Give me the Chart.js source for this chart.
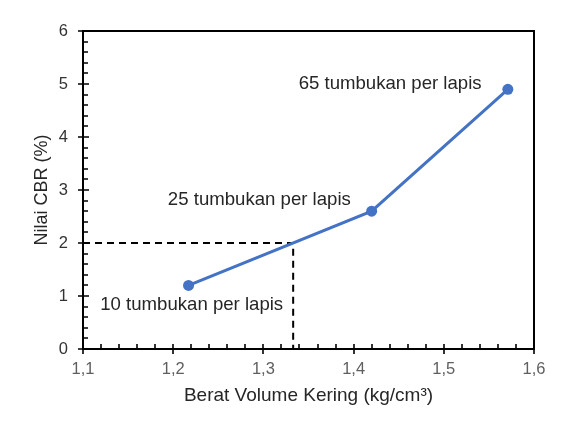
<!DOCTYPE html>
<html>
<head>
<meta charset="utf-8">
<script src="https://cdn.jsdelivr.net/npm/chart.js@4"></script>
<style>
  html, body { margin: 0; padding: 0; background: #ffffff; }
  #wrap { width: 574px; height: 425px; }
</style>
</head>
<body>
<div id="wrap"><canvas id="c" width="574" height="425"></canvas></div>
<script>
// ---- data ----
const dryDensity = [1.217, 1.420, 1.571];
const cbrValues = [1.2, 2.6, 4.9];
const pointLabels = ['10 tumbukan per lapis', '25 tumbukan per lapis', '65 tumbukan per lapis'];
const labelAnchorX = [1.2205, 1.2955, 1.4405];
const labelAnchorY = [0.83, 2.81, 5.0];
const guideX = [1.1, 1.333, 1.333];
const guideY = [2, 2, 0];
const xTickLabels = ['1,1', '1,2', '1,3', '1,4', '1,5', '1,6'];
const yTickLabels = ['0', '1', '2', '3', '4', '5', '6'];
const xTitle = 'Berat Volume Kering (kg/cm³)';
const yTitle = 'Nilai CBR (%)';

const FONT = '"Liberation Sans", Arial, sans-serif';

const decorPlugin = {
  id: 'decor',
  beforeDatasetsDraw(chart) {
    const { ctx, chartArea: a, scales } = chart;
    const xs = scales.x, ys = scales.y;
    ctx.save();
    ctx.strokeStyle = '#000';
    ctx.lineWidth = 2;
    ctx.strokeRect(a.left, a.top, a.right - a.left, a.bottom - a.top);
    ctx.lineWidth = 1.6;
    ctx.beginPath();
    // x ticks
    for (let i = 0; i <= 25; i++) {
      const px = Math.round(xs.getPixelForValue(1.1 + i * 0.02));
      if (i % 5 === 0) { ctx.moveTo(px, a.bottom - 5); ctx.lineTo(px, a.bottom + 5); }
      else { ctx.moveTo(px, a.bottom); ctx.lineTo(px, a.bottom - 5); }
    }
    // y ticks
    for (let i = 0; i <= 30; i++) {
      const py = Math.round(ys.getPixelForValue(i * 0.2));
      if (i % 5 === 0) { ctx.moveTo(a.left - 5, py); ctx.lineTo(a.left + 6, py); }
      else { ctx.moveTo(a.left, py); ctx.lineTo(a.left + 5, py); }
    }
    ctx.stroke();
    ctx.restore();
  },
  afterDatasetsDraw(chart) {
    const { ctx, scales } = chart;
    ctx.save();
    ctx.fillStyle = '#262626';
    ctx.font = '18.6px ' + FONT;
    ctx.textAlign = 'center';
    ctx.textBaseline = 'middle';
    pointLabels.forEach((t, i) => {
      ctx.fillText(t, scales.x.getPixelForValue(labelAnchorX[i]), scales.y.getPixelForValue(labelAnchorY[i]));
    });
    ctx.restore();
  }
};

new Chart(document.getElementById('c'), {
  type: 'scatter',
  data: {
    datasets: [
      {
        data: guideX.map((x, i) => ({ x, y: guideY[i] })),
        showLine: true,
        borderColor: '#000',
        borderWidth: 2,
        borderDash: [7, 5],
        pointRadius: 0,
        fill: false,
        order: 2
      },
      {
        data: dryDensity.map((x, i) => ({ x, y: cbrValues[i] })),
        showLine: true,
        borderColor: '#4472C4',
        backgroundColor: '#4472C4',
        borderWidth: 3,
        pointRadius: 5.5,
        pointBorderWidth: 0,
        pointBackgroundColor: '#4472C4',
        fill: false,
        order: 1
      }
    ]
  },
  options: {
    responsive: false,
    animation: false,
    devicePixelRatio: 1,
    layout: { padding: { left: 0, right: 40, top: 31, bottom: 0 } },
    plugins: { legend: { display: false }, tooltip: { enabled: false } },
    scales: {
      x: {
        type: 'linear',
        min: 1.1, max: 1.6,
        afterFit(s) { s.height = 76; },
        afterBuildTicks(s) { s.ticks = xTickLabels.map((_, i) => ({ value: 1.1 + i * 0.1 })); },
        ticks: {
          padding: 11,
          color: '#5f5f5f',
          font: { family: FONT, size: 16.5 },
          callback: (v, i) => xTickLabels[i]
        },
        grid: { display: false, drawTicks: false },
        border: { display: false },
        title: {
          display: true, text: xTitle, color: '#262626',
          font: { family: FONT, size: 19 },
          padding: { top: 0, bottom: 18 }
        }
      },
      y: {
        type: 'linear',
        min: 0, max: 6,
        afterFit(s) { s.width = 83; },
        afterBuildTicks(s) { s.ticks = yTickLabels.map((_, i) => ({ value: i })); },
        ticks: {
          padding: 15,
          color: '#333333',
          font: { family: FONT, size: 16.5 },
          callback: (v, i) => yTickLabels[i]
        },
        grid: { display: false, drawTicks: false },
        border: { display: false },
        title: {
          display: true, text: yTitle, color: '#262626',
          font: { family: FONT, size: 18 },
          padding: { top: 31, bottom: 0 }
        }
      }
    }
  },
  plugins: [decorPlugin]
});
</script>
</body>
</html>
